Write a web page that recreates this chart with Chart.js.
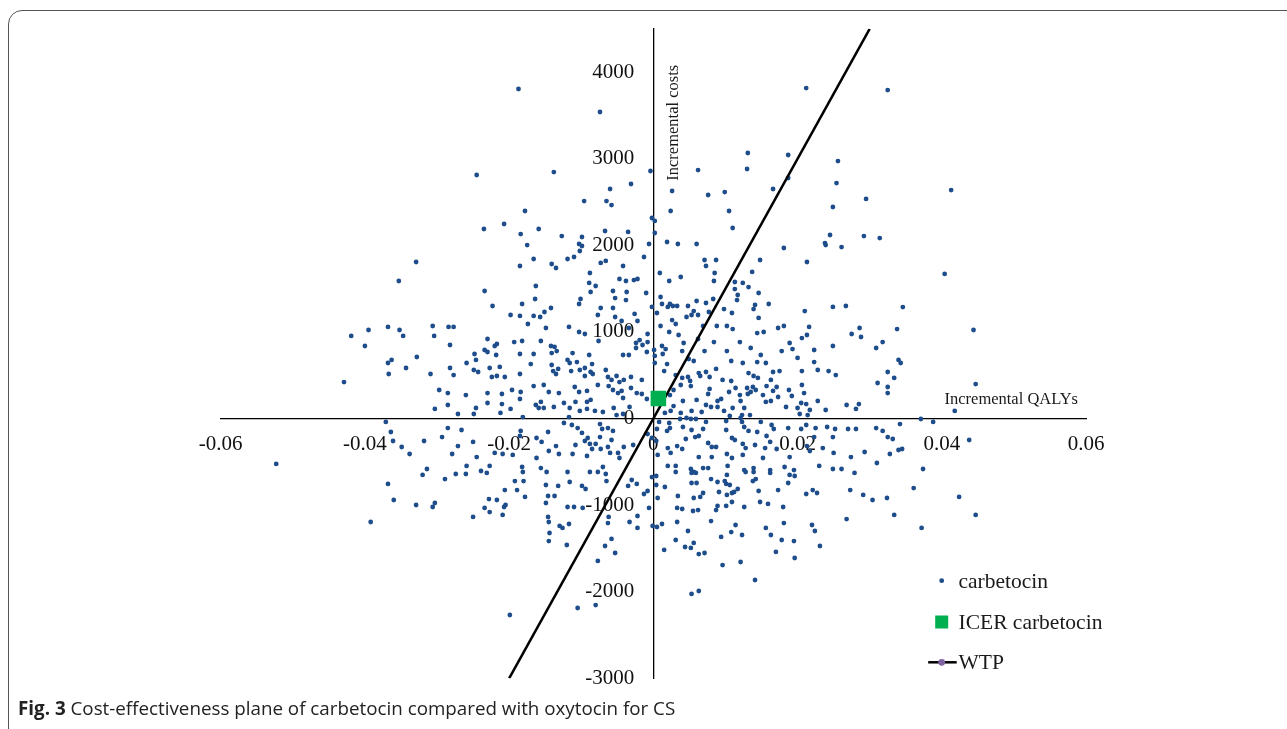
<!DOCTYPE html>
<html>
<head>
<meta charset="utf-8">
<script src="https://cdn.jsdelivr.net/npm/chart.js@4.4.1/dist/chart.umd.min.js"></script>
<style>
  html, body { margin: 0; padding: 0; background: #fff; }
  #page { position: relative; width: 1287px; height: 729px; overflow: hidden; }
  #frame { position: absolute; left: 8px; top: 10px; width: 1300px; height: 760px; border: 1px solid #555; border-radius: 14px; box-sizing: border-box; }
  #c { position: absolute; left: 0; top: 0; }
  #caption { position: absolute; left: 18px; top: 695px; font-family: "Open Sans", sans-serif; font-size: 18.8px; color: #222; white-space: nowrap; }
</style>
</head>
<body>
<div id="page">
  <div id="frame"></div>
  <canvas id="c" width="1287" height="729"></canvas>
  <div id="caption"><b>Fig. 3</b> Cost-effectiveness plane of carbetocin compared with oxytocin for CS</div>
</div>
<script>
// axis setup
const xRange = [-0.06, 0.06];
const yRange = [-3000, 4500];
const xTicks = [-0.06, -0.04, -0.02, 0, 0.02, 0.04, 0.06];
const xTickLabels = ['-0.06', '-0.04', '-0.02', '0', '0.02', '0.04', '0.06'];
const yTicks = [-3000, -2000, -1000, 0, 1000, 2000, 3000, 4000];
const legendLabels = ['carbetocin', 'ICER carbetocin', 'WTP'];

// WTP line end points (QALY, cost)
const wtpQALYs = [-0.02, 0.03];
const wtpCosts = [-3000, 4500];

// mean ICER point
const icerPoint = [0.0007, 230];

// probabilistic simulations: [incremental QALY, incremental cost]
const carbetocinSims = [
  [-0.0187,3805],[-0.0074,3539],[-0.0245,2812],[-0.0138,2846],[-0.0004,2858],[-0.0031,2708],[-0.0060,2650],[-0.0096,2511],
  [-0.0065,2511],[-0.0058,2465],[-0.0178,2396],[-0.0002,2315],[-0.0235,2188],[-0.0207,2246],[-0.0159,2188],[-0.0184,2130],
  [-0.0127,2107],[-0.0099,2096],[-0.0067,2165],[-0.0035,2154],[-0.0175,2003],[-0.0103,2015],[-0.0006,2015],[0.0212,3816],
  [0.0131,3066],[0.0187,3043],[0.0062,2869],[0.0130,2881],[0.0256,2973],[0.0254,2719],[0.0187,2777],[0.0166,2650],
  [0.0026,2627],[0.0076,2581],[0.0099,2615],[0.0295,2535],[0.0024,2396],[0.0105,2396],[0.0249,2442],[0.0002,2281],
  [0.0002,2142],[0.0110,2200],[0.0245,2119],[0.0292,2107],[0.0019,2038],[0.0034,2015],[0.0060,2015],[0.0238,2026],
  [0.0325,3793],[0.0413,2638],[0.0314,2084],
  [-0.0329,1807],[-0.0353,1588],[-0.0368,1057],[-0.0352,1022],[-0.0306,1068],[-0.0419,953],[-0.0395,1022],[-0.0347,953],
  [-0.0304,953],[-0.0400,837],[-0.0328,710],[-0.0363,676],[-0.0368,641],[-0.0343,583],[-0.0367,514],[-0.0309,514],
  [-0.0429,421],[-0.0303,110],[-0.0371,-40],[-0.0364,-156],[-0.0361,-260],[-0.0349,-329],[-0.0318,-260],[-0.0338,-410],
  [-0.0523,-525],
  [0.0404,1669],[0.0346,1287],[0.0444,1022],[0.0338,1033],[0.0318,883],[0.0309,814],[0.0340,676],[0.0343,641],
  [0.0325,537],[0.0334,468],[0.0311,410],[0.0325,364],[0.0325,294],[0.0447,398],[0.0418,87],[0.0371,-6],
  [0.0388,-40],[0.0342,-64],[0.0309,-110],[0.0318,-144],[0.0325,-214],[0.0332,-237],[0.0438,-248],[0.0340,-364],
  [0.0345,-352],[0.0328,-410],[0.0310,-514],
  [-0.0314,-583],[-0.0320,-652],[-0.0368,-756],[-0.0360,-941],[-0.0329,-999],[-0.0306,-1022],[-0.0303,-976],[-0.0392,-1195],
  [-0.0289,-699],[-0.0274,-641],[-0.0260,-641],[-0.0259,-548],[-0.0239,-606],[-0.0231,-629],[-0.0227,-548],[-0.0250,-1137],
  [-0.0234,-1033],[-0.0227,-1080],[-0.0228,-930],[-0.0217,-941],[-0.0209,-1114],[-0.0207,-1022],[-0.0205,-999],[-0.0206,-826],
  [-0.0192,-722],[-0.0189,-826],[-0.0180,-722],[-0.0178,-906],[-0.0182,-560],[-0.0181,-618],[-0.0156,-572],[-0.0148,-618],
  [-0.0149,-768],[-0.0132,-779],[-0.0146,-895],[-0.0137,-895],[-0.0149,-976],[-0.0146,-1137],[-0.0145,-1195],[-0.0130,-1241],
  [-0.0126,-1264],[-0.0117,-1218],[-0.0144,-1322],[-0.0145,-1415],[-0.0120,-1461],[-0.0119,-1022],[-0.0110,-1022],[-0.0116,-733],
  [-0.0119,-618],[-0.0099,-779],[-0.0094,-814],[-0.0098,-1033],[-0.0088,-618],[-0.0077,-618],[-0.0070,-560],[-0.0066,-641],
  [-0.0065,-722],[-0.0062,-1137],[-0.0063,-1207],[-0.0058,-1391],[-0.0067,-1472],[-0.0053,-1553],[-0.0077,-1645],[-0.0105,-2188],
  [-0.0080,-2154],[-0.0199,-2269],[-0.0035,-779],[-0.0030,-710],[-0.0023,-756],[-0.0033,-1195],[-0.0022,-1126],[-0.0022,-1264],
  [-0.0008,-837],[-0.0013,-872],[-0.0006,-1033],[-0.0001,-1241],[-0.0002,-676],
  [0.0020,-548],[0.0031,-548],[0.0031,-618],[0.0052,-583],[0.0056,-618],[0.0059,-629],[0.0053,-629],[0.0069,-572],
  [0.0076,-572],[0.0103,-548],[0.0102,-652],[0.0126,-595],[0.0128,-618],[0.0139,-572],[0.0139,-618],[0.0162,-595],
  [0.0162,-629],[0.0182,-560],[0.0195,-595],[0.0196,-664],[0.0189,-652],[0.0230,-548],[0.0249,-583],[0.0261,-583],
  [0.0279,-629],[0.0004,-664],[0.0004,-768],[0.0016,-791],[0.0006,-918],[0.0053,-745],[0.0060,-745],[0.0080,-699],
  [0.0089,-733],[0.0099,-722],[0.0101,-756],[0.0106,-768],[0.0138,-722],[0.0142,-699],[0.0187,-745],[0.0069,-860],
  [0.0065,-906],[0.0056,-918],[0.0091,-849],[0.0102,-883],[0.0109,-860],[0.0112,-849],[0.0117,-814],[0.0146,-837],
  [0.0173,-826],[0.0212,-872],[0.0221,-826],[0.0227,-860],[0.0273,-826],[0.0291,-883],[0.0304,-941],[0.0034,-895],
  [0.0033,-1033],[0.0040,-1045],[0.0055,-1068],[0.0062,-1057],[0.0087,-1057],[0.0089,-1010],[0.0101,-1010],[0.0109,-964],
  [0.0126,-1022],[0.0148,-964],[0.0159,-987],[0.0180,-1022],[0.0005,-1253],[0.0012,-1218],[0.0033,-1195],[0.0048,-1299],
  [0.0080,-1184],[0.0114,-1230],[0.0108,-1311],[0.0094,-1368],[0.0123,-1345],[0.0156,-1264],[0.0163,-1345],[0.0181,-1207],
  [0.0178,-1403],[0.0195,-1415],[0.0220,-1230],[0.0224,-1299],[0.0231,-1472],[0.0268,-1161],[0.0031,-1403],[0.0015,-1518],
  [0.0044,-1484],[0.0052,-1495],[0.0056,-1437],[0.0063,-1565],[0.0071,-1553],[0.0096,-1692],[0.0121,-1657],[0.0170,-1541],
  [0.0196,-1611],[0.0141,-1865],[0.0053,-2026],[0.0063,-1992],
  [0.0374,-583],[0.0361,-803],[0.0324,-918],[0.0334,-1114],[0.0372,-1264],[0.0424,-906],[0.0447,-1114],
  [-0.0166,1842],[-0.0185,1761],[-0.0141,1784],[-0.0135,1738],[-0.0119,1842],[-0.0110,1865],[-0.0102,1934],[-0.0099,1992],
  [-0.0073,1796],[-0.0066,1819],[-0.0042,1761],[-0.0013,1865],[-0.0088,1680],[-0.0047,1611],[-0.0038,1588],[-0.0027,1599],
  [-0.0022,1611],[-0.0089,1565],[-0.0080,1530],[-0.0163,1530],[-0.0234,1472],[-0.0056,1472],[-0.0037,1461],[-0.0010,1449],
  [-0.0087,1461],[-0.0164,1380],[-0.0101,1380],[-0.0103,1322],[-0.0053,1391],[-0.0038,1368],[-0.0182,1322],[-0.0223,1299],
  [-0.0142,1276],[-0.0151,1230],[-0.0073,1276],[-0.0056,1276],[-0.0002,1288],[-0.0198,1195],[-0.0185,1184],[-0.0166,1184],
  [-0.0157,1172],[-0.0077,1195],[-0.0053,1172],[-0.0044,1126],[-0.0026,1207],[-0.0022,1126],[-0.0174,1091],[-0.0149,1045],
  [-0.0284,1057],[-0.0277,1057],[-0.0117,1057],[-0.0103,999],[-0.0095,976],[-0.0034,1045],[-0.0008,976],[-0.0019,906],
  [-0.0024,872],[-0.0015,849],[-0.0008,883],[-0.0230,918],[-0.0220,837],[-0.0217,860],[-0.0193,883],[-0.0182,895],
  [-0.0156,895],[-0.0142,837],[-0.0137,826],[-0.0076,895],[-0.0282,849],[-0.0234,791],[-0.0230,768],[-0.0248,745],
  [-0.0218,733],[-0.0185,745],[-0.0166,745],[-0.0141,756],[-0.0134,779],[-0.0112,756],[-0.0089,733],[-0.0042,733],
  [-0.0034,733],[-0.0009,768],[0.0001,791],[-0.0024,814],[-0.0259,641],[-0.0246,676],[-0.0213,595],[-0.0170,629],
  [-0.0141,618],[-0.0119,676],[-0.0116,641],[-0.0106,652],[-0.0085,629],[-0.0087,537],[-0.0084,514],[-0.0066,560],
  [-0.0051,491],[-0.0282,583],[-0.0277,502],[-0.0249,560],[-0.0243,537],[-0.0227,583],[-0.0224,479],[-0.0217,491],
  [-0.0206,479],[-0.0185,514],[-0.0139,548],[-0.0132,572],[-0.0135,514],[-0.0114,548],[-0.0102,560],[-0.0095,583],
  [-0.0095,491],[-0.0063,479],[-0.0058,445],[-0.0047,421],[-0.0041,445],[-0.0031,479],[-0.0016,445],[-0.0297,329],
  [-0.0285,294],[-0.0260,271],[-0.0230,294],[-0.0210,283],[-0.0196,329],[-0.0184,306],[-0.0166,375],[-0.0152,387],
  [-0.0145,306],[-0.0131,294],[-0.0109,364],[-0.0103,306],[-0.0092,318],[-0.0077,387],[-0.0062,375],[-0.0056,329],
  [-0.0049,294],[-0.0044,318],[-0.0042,237],[-0.0031,352],[-0.0023,294],[-0.0016,283],[-0.0009,225],[-0.0285,156],
  [-0.0271,52],[-0.0249,52],[-0.0246,121],[-0.0230,179],[-0.0210,167],[-0.0198,110],[-0.0181,17],[-0.0185,225],
  [-0.0163,156],[-0.0159,121],[-0.0152,121],[-0.0138,133],[-0.0156,191],[-0.0124,179],[-0.0116,121],[-0.0108,191],
  [-0.0102,87],[-0.0092,191],[-0.0092,110],[-0.0087,214],[-0.0081,87],[-0.0070,75],[-0.0055,121],[-0.0051,40],
  [-0.0042,52],[-0.0033,133],[-0.0117,17],[-0.0212,64],
  [-0.0285,-110],[-0.0266,-133],[-0.0293,-214],[-0.0271,-318],[-0.0279,-410],[-0.0250,-271],[-0.0245,-445],[-0.0184,-144],
  [-0.0185,-202],[-0.0162,-225],[-0.0155,-271],[-0.0146,-156],[-0.0145,-375],[-0.0162,-456],[-0.0124,-52],[-0.0113,-75],
  [-0.0105,-110],[-0.0099,-167],[-0.0095,-260],[-0.0091,-225],[-0.0088,-294],[-0.0074,-64],[-0.0071,-121],[-0.0063,-110],
  [-0.0056,-144],[-0.0058,-248],[-0.0074,-214],[-0.0080,-294],[-0.0085,-352],[-0.0108,-306],[-0.0112,-410],[-0.0135,-318],
  [-0.0131,-410],[-0.0092,-433],[-0.0073,-352],[-0.0063,-329],[-0.0060,-398],[-0.0049,-398],[-0.0041,-329],[-0.0047,-456],
  [-0.0008,-179],[-0.0002,-225],[-0.0028,-306],[-0.0209,-410],[-0.0195,-421],[-0.0220,-398],
  [0.0071,1830],[0.0073,1761],[0.0087,1830],[0.0148,1830],[0.0213,1807],[0.0181,1969],[0.0239,2003],[0.0261,1980],
  [0.0009,1680],[0.0038,1634],[0.0022,1588],[0.0085,1680],[0.0084,1588],[0.0137,1692],[0.0113,1576],[0.0113,1495],
  [0.0124,1565],[0.0132,1518],[0.0146,1449],[0.0117,1426],[0.0116,1368],[0.0010,1403],[0.0012,1322],[0.0020,1288],
  [0.0023,1322],[0.0027,1299],[0.0033,1299],[0.0048,1299],[0.0060,1357],[0.0073,1334],[0.0083,1380],[0.0005,1218],
  [0.0026,1137],[0.0046,1172],[0.0053,1195],[0.0056,1241],[0.0062,1195],[0.0077,1230],[0.0098,1264],[0.0109,1218],
  [0.0139,1264],[0.0141,1311],[0.0160,1322],[0.0146,1161],[0.0210,1241],[0.0249,1288],[0.0267,1299],[0.0010,1068],
  [0.0031,1091],[0.0035,964],[0.0022,999],[0.0069,1068],[0.0088,1068],[0.0102,1068],[0.0110,1033],[0.0144,987],
  [0.0153,999],[0.0173,1045],[0.0181,1068],[0.0216,1057],[0.0213,964],[0.0206,929],[0.0275,976],[0.0286,1045],
  [0.0288,941],[0.0189,872],[0.0178,779],[0.0249,837],[0.0223,791],[0.0012,837],[0.0017,802],[0.0013,745],
  [0.0042,872],[0.0040,779],[0.0062,918],[0.0084,883],[0.0120,883],[0.0135,814],[0.0102,779],[0.0071,779],
  [0.0108,664],[0.0149,733],[0.0144,652],[0.0156,641],[0.0193,802],[0.0200,699],[0.0223,652],[0.0002,722],
  [0.0002,641],[0.0019,629],[0.0049,687],[0.0056,664],[0.0063,525],[0.0087,572],[0.0073,537],[0.0124,641],
  [0.0132,525],[0.0139,491],[0.0166,537],[0.0175,548],[0.0206,548],[0.0228,560],[0.0243,548],[0.0253,502],
  [0.0015,548],[0.0031,502],[0.0040,468],[0.0048,479],[0.0051,433],[0.0065,491],[0.0078,479],[0.0096,445],
  [0.0108,433],[0.0145,468],[0.0163,445],[0.0157,375],[0.0171,364],[0.0138,364],[0.0130,352],[0.0135,306],
  [0.0114,352],[0.0038,387],[0.0052,375],[0.0028,329],[0.0023,271],[0.0078,341],[0.0076,283],[0.0094,225],
  [0.0089,202],[0.0105,306],[0.0120,271],[0.0121,202],[0.0131,283],[0.0142,329],[0.0152,271],[0.0166,318],
  [0.0173,248],[0.0188,329],[0.0192,260],[0.0209,294],[0.0206,387],[0.0205,179],[0.0212,167],[0.0200,121],
  [0.0217,98],[0.0228,202],[0.0239,98],[0.0268,156],[0.0285,167],[0.0281,110],[0.0060,214],[0.0041,202],
  [0.0028,144],[0.0024,87],[0.0016,64],[0.0038,64],[0.0053,87],[0.0089,133],[0.0098,87],[0.0110,121],
  [0.0126,121],[0.0123,40],[0.0134,40],[0.0156,191],[0.0163,202],[0.0184,133],[0.0073,156],[0.0080,133],
  [0.0067,75],[0.0106,29],[0.0121,6],[0.0214,40],[0.0203,52],
  [0.0008,-40],[0.0022,-52],[0.0023,-110],[0.0005,-121],[0.0019,-144],[0.0037,-6],[0.0046,6],[0.0041,-98],
  [0.0052,-6],[0.0059,-6],[0.0073,-40],[0.0069,-121],[0.0053,-133],[0.0058,-214],[0.0063,-202],[0.0045,-237],
  [0.0033,-318],[0.0040,-352],[0.0076,-283],[0.0081,-329],[0.0087,-329],[0.0101,-133],[0.0101,-29],[0.0123,-40],
  [0.0126,-98],[0.0132,-144],[0.0109,-225],[0.0113,-248],[0.0124,-294],[0.0128,-341],[0.0141,-306],[0.0102,-410],
  [0.0109,-456],[0.0124,-421],[0.0149,-40],[0.0164,-75],[0.0167,-121],[0.0144,-156],[0.0157,-202],[0.0162,-271],
  [0.0155,-341],[0.0152,-456],[0.0171,-352],[0.0187,-110],[0.0205,-121],[0.0212,-75],[0.0225,-110],[0.0241,-98],
  [0.0252,-121],[0.0223,-214],[0.0249,-214],[0.0235,-341],[0.0270,-121],[0.0281,-121],[0.0213,-318],[0.0217,-375],
  [0.0250,-398],[0.0293,-387],[0.0189,-445],[0.0274,-445],[0.0004,-260],[0.0020,-341],[0.0024,-398],[0.0006,-421],
  [0.0063,-445],[0.0081,-445]
];

const BLUE = '#1e4d8c';
const GREEN = '#00b050';
const PURPLE = '#8064a2';
const SERIF = '"Liberation Serif", "Times New Roman", serif';
const Y_LABEL_GAP = 19; // space between y axis and its labels

// chart.js puts labels of a y axis placed at {x: 0} right on the line, push them left
const yLabelGap = {
  id: 'yLabelGap',
  beforeDraw(chart) {
    const items = chart.scales.y.getLabelItems();
    if (items._moved) return;
    items.forEach(it => { it.options.translation[0] -= Y_LABEL_GAP; });
    items._moved = true;
  }
};

// axis titles + legend box drawn over the plot
const overlay = {
  id: 'overlay',
  afterDatasetsDraw(chart) {
    const { ctx, chartArea: a, scales } = chart;
    const x0 = scales.x.getPixelForValue(0);
    const y0 = scales.y.getPixelForValue(0);
    ctx.save();
    ctx.fillStyle = '#1a1a1a';
    ctx.font = '16.5px ' + SERIF;
    ctx.textBaseline = 'alphabetic';
    ctx.textAlign = 'right';
    ctx.fillText('Incremental QALYs', a.right - 8, y0 - 14.5);
    ctx.save();
    ctx.translate(x0 + 24.5, a.top + 36);
    ctx.rotate(-Math.PI / 2);
    ctx.fillText('Incremental costs', 0, 0);
    ctx.restore();

    // legend
    const mx = a.right - 144.3, tx = a.right - 127.5;
    const rows = [a.bottom - 97.6, a.bottom - 56.3, a.bottom - 16];
    ctx.font = '21.5px ' + SERIF;
    ctx.textAlign = 'left';
    ctx.fillStyle = BLUE;
    ctx.beginPath(); ctx.arc(mx, rows[0], 2.4, 0, Math.PI * 2); ctx.fill();
    ctx.fillStyle = GREEN;
    ctx.fillRect(mx - 6.5, rows[1] - 6.5, 13, 13);
    ctx.strokeStyle = '#000'; ctx.lineWidth = 2.5;
    ctx.beginPath(); ctx.moveTo(mx - 13.5, rows[2]); ctx.lineTo(mx + 15, rows[2]); ctx.stroke();
    ctx.fillStyle = PURPLE;
    ctx.beginPath(); ctx.arc(mx, rows[2], 3.4, 0, Math.PI * 2); ctx.fill();
    ctx.fillStyle = '#1a1a1a';
    legendLabels.forEach((t, i) => ctx.fillText(t, tx, rows[i] + 7));
    ctx.restore();
  }
};

new Chart(document.getElementById('c'), {
  type: 'scatter',
  data: {
    datasets: [
      {
        label: legendLabels[0],
        data: carbetocinSims.map(p => ({ x: p[0], y: p[1] })),
        pointRadius: 2.4, pointBorderWidth: 0,
        backgroundColor: BLUE, borderColor: BLUE,
        order: 3
      },
      {
        label: legendLabels[2],
        data: wtpQALYs.map((q, i) => ({ x: q, y: wtpCosts[i] })),
        showLine: true, borderColor: '#000', borderWidth: 2.5,
        pointRadius: 0, backgroundColor: PURPLE,
        order: 2
      },
      {
        label: legendLabels[1],
        data: [{ x: icerPoint[0], y: icerPoint[1] }],
        pointStyle: 'rect', pointRadius: 11, pointBorderWidth: 0,
        backgroundColor: GREEN, borderColor: GREEN,
        order: 1
      }
    ]
  },
  options: {
    responsive: false,
    animation: false,
    events: [],
    layout: { padding: { left: 220.7, right: 201, top: 28.8, bottom: 50.7 } },
    plugins: { legend: { display: false }, tooltip: { enabled: false } },
    scales: {
      x: {
        type: 'linear', min: xRange[0], max: xRange[1],
        position: { y: 0 },
        afterBuildTicks: s => { s.ticks = xTicks.map(v => ({ value: v })); },
        grid: { display: false, drawTicks: false },
        border: { display: true, color: '#000', width: 1.3 },
        ticks: {
          padding: 13, color: '#111', font: { family: SERIF, size: 21 },
          maxRotation: 0, autoSkip: false,
          callback: (v, i) => xTickLabels[i]
        }
      },
      y: {
        type: 'linear', min: yRange[0], max: yRange[1],
        position: { x: 0 },
        afterBuildTicks: s => { s.ticks = yTicks.map(v => ({ value: v })); },
        grid: { display: false, drawTicks: false },
        border: { display: true, color: '#000', width: 1.3 },
        ticks: {
          padding: 0, color: '#111', font: { family: SERIF, size: 21 },
          autoSkip: false,
          callback: v => String(v)
        }
      }
    }
  },
  plugins: [yLabelGap, overlay]
});
</script>
</body>
</html>
